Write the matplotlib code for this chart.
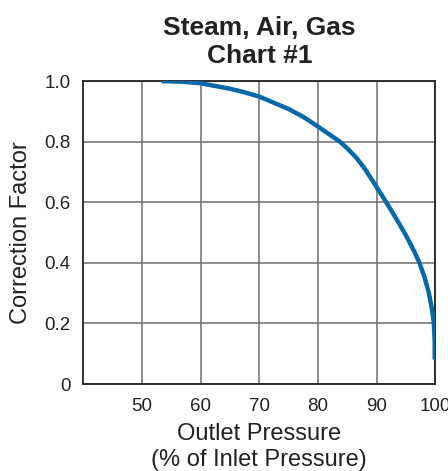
import matplotlib.pyplot as plt

# Correction factor vs outlet pressure
outlet_pct = [53.7, 57.0, 60.0, 65.0, 67.5, 70.0, 75.0, 77.5, 80.0, 81.8, 83.6, 85.0, 86.5,
              88.0, 90.0, 91.7, 93.3, 94.9, 96.4, 97.3, 98.2, 98.9, 99.4, 99.75, 99.9, 99.9]
corr_factor = [1.0, 0.998, 0.993, 0.975, 0.963, 0.949, 0.908, 0.882, 0.850, 0.826, 0.802, 0.778,
               0.748, 0.710, 0.650, 0.598, 0.547, 0.494, 0.438, 0.40, 0.35, 0.30, 0.25, 0.20,
               0.14, 0.088]

x_ticks = [50, 60, 70, 80, 90, 100]
y_ticks = [0, 0.2, 0.4, 0.6, 0.8, 1.0]
y_tick_labels = ['0', '0.2', '0.4', '0.6', '0.8', '1.0']

plt.rcParams['font.family'] = ['Liberation Sans', 'DejaVu Sans']
text_color = '#222222'

fig = plt.figure(figsize=(4.48, 4.71), dpi=100)
ax = fig.add_axes([0.186, 0.1847, 0.7857, 0.643])

ax.plot(outlet_pct, corr_factor, color='#0568a8', lw=3.2, solid_joinstyle='round', zorder=3)

ax.set_xlim(40, 100)
ax.set_ylim(0, 1.0)
ax.set_xticks(x_ticks)
ax.set_yticks(y_ticks)
ax.set_yticklabels(y_tick_labels)
ax.tick_params(length=0, labelsize=13.5, labelcolor=text_color)
ax.tick_params(axis='x', pad=10)
ax.tick_params(axis='y', pad=9)

# grid
ax.grid(True, color='#6e6e6e', lw=1.1)
ax.set_axisbelow(True)
for s in ax.spines.values():
    s.set_color('#222222')
    s.set_linewidth(1.3)

ax.set_title('Steam, Air, Gas\nChart #1', fontsize=19, fontweight='bold', color=text_color, pad=13)
ax.set_xlabel('Outlet Pressure\n(% of Inlet Pressure)', fontsize=17, color=text_color,
              labelpad=6, linespacing=1.2)
ax.set_ylabel('Correction Factor', fontsize=17, color=text_color, labelpad=9)

fig.savefig('out.png', dpi=100)
